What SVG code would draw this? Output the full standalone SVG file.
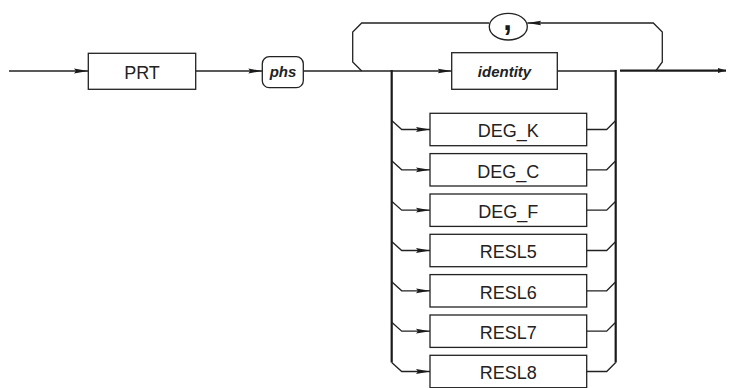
<svg xmlns="http://www.w3.org/2000/svg" width="732" height="388" viewBox="0 0 732 388">
<defs>
<style>
.ln{fill:none;stroke:#222;stroke-width:1.3}
.bar{fill:none;stroke:#1a1a1a;stroke-width:2.2}
.box{fill:#fff;stroke:#222;stroke-width:1.3}
.t{font-family:"Liberation Sans",Arial,sans-serif;font-size:18px;fill:#222;text-anchor:middle}
.ti{font-family:"Liberation Sans",Arial,sans-serif;font-size:15px;font-weight:bold;font-style:italic;fill:#222;text-anchor:middle}
.tc{font-family:"Liberation Sans",Arial,sans-serif;font-size:31px;font-weight:bold;fill:#1a1a1a;text-anchor:middle}
</style>
<marker id="arr" viewBox="0 0 14 6" refX="14" refY="3" markerWidth="14" markerHeight="6" markerUnits="userSpaceOnUse" orient="auto">
<path d="M0,0.6 L14,3 L0,5.4 L2,3 Z" fill="#1a1a1a"/>
</marker>
<marker id="arrEnd" viewBox="0 0 8 6" refX="8" refY="3" markerWidth="8" markerHeight="6" markerUnits="userSpaceOnUse" orient="auto">
<path d="M0,0.5 L8,3 L0,5.5 Z" fill="#1a1a1a"/>
</marker>
</defs>
<g id="connectors">
<line class="ln" x1="9" y1="71" x2="88" y2="71" marker-end="url(#arr)"/>
<line class="ln" x1="195.7" y1="71" x2="262.3" y2="71" marker-end="url(#arr)"/>
<line class="ln" x1="303.3" y1="71" x2="451.7" y2="71" marker-end="url(#arr)"/>
<line class="ln" x1="557.3" y1="71" x2="616" y2="71"/>
<line class="bar" x1="620" y1="70.6" x2="726" y2="70.6" marker-end="url(#arrEnd)"/>
<path class="ln" d="M655.7,71 L662.3,62 L662.3,32 L653.3,23 L527.3,23" marker-end="url(#arr)"/>
<path class="ln" d="M489.3,23 L361.7,23 L352.7,32 L352.7,62 L361.7,71"/>
<line class="bar" x1="391.7" y1="70" x2="391.7" y2="362.5"/>
<line class="bar" x1="615.7" y1="70" x2="615.7" y2="362.5"/>
<path class="ln" d="M391.7,120.5 L401.7,129.5 L430,129.5" marker-end="url(#arr)"/>
<path class="ln" d="M391.7,160.8 L401.7,169.8 L430,169.8" marker-end="url(#arr)"/>
<path class="ln" d="M391.7,201.2 L401.7,210.2 L430,210.2" marker-end="url(#arr)"/>
<path class="ln" d="M391.7,241.5 L401.7,250.5 L430,250.5" marker-end="url(#arr)"/>
<path class="ln" d="M391.7,281.8 L401.7,290.8 L430,290.8" marker-end="url(#arr)"/>
<path class="ln" d="M391.7,322.2 L401.7,331.2 L430,331.2" marker-end="url(#arr)"/>
<path class="ln" d="M391.7,362.5 L401.7,371.5 L430,371.5" marker-end="url(#arr)"/>
<path class="ln" d="M586.7,129.5 L606.7,129.5 L615.7,120.5"/>
<path class="ln" d="M586.7,169.8 L606.7,169.8 L615.7,160.8"/>
<path class="ln" d="M586.7,210.2 L606.7,210.2 L615.7,201.2"/>
<path class="ln" d="M586.7,250.5 L606.7,250.5 L615.7,241.5"/>
<path class="ln" d="M586.7,290.8 L606.7,290.8 L615.7,281.8"/>
<path class="ln" d="M586.7,331.2 L606.7,331.2 L615.7,322.2"/>
<path class="ln" d="M586.7,371.5 L606.7,371.5 L615.7,362.5"/>
</g>
<g id="PRT">
<rect class="box" x="88.3" y="53.3" width="107.4" height="36"/>
<text class="t" x="142" y="78.8">PRT</text>
</g>
<g id="phs">
<rect class="box" x="262.3" y="56.7" width="41" height="31" rx="7"/>
<text class="ti" x="283" y="77">phs</text>
</g>
<g id="comma">
<ellipse class="box" cx="508.3" cy="26.7" rx="19" ry="13.3"/>
<text class="tc" x="507.5" y="29.5">,</text>
</g>
<g id="identity">
<rect class="box" x="451.7" y="52.7" width="105.6" height="36.6"/>
<text class="ti" x="504.5" y="76.5">identity</text>
</g>
<g id="DEG_K">
<rect class="box" x="430" y="113.3" width="156.7" height="32.4"/>
<text class="t" x="508.3" y="137.2">DEG_K</text>
</g>
<g id="DEG_C">
<rect class="box" x="430" y="153.6" width="156.7" height="32.4"/>
<text class="t" x="508.3" y="177.5">DEG_C</text>
</g>
<g id="DEG_F">
<rect class="box" x="430" y="194" width="156.7" height="32.4"/>
<text class="t" x="508.3" y="217.9">DEG_F</text>
</g>
<g id="RESL5">
<rect class="box" x="430" y="234.3" width="156.7" height="32.4"/>
<text class="t" x="508.3" y="258.2">RESL5</text>
</g>
<g id="RESL6">
<rect class="box" x="430" y="274.6" width="156.7" height="32.4"/>
<text class="t" x="508.3" y="298.5">RESL6</text>
</g>
<g id="RESL7">
<rect class="box" x="430" y="315" width="156.7" height="32.4"/>
<text class="t" x="508.3" y="338.9">RESL7</text>
</g>
<g id="RESL8">
<rect class="box" x="430" y="355.3" width="156.7" height="32.4"/>
<text class="t" x="508.3" y="379.2">RESL8</text>
</g>
</svg>
